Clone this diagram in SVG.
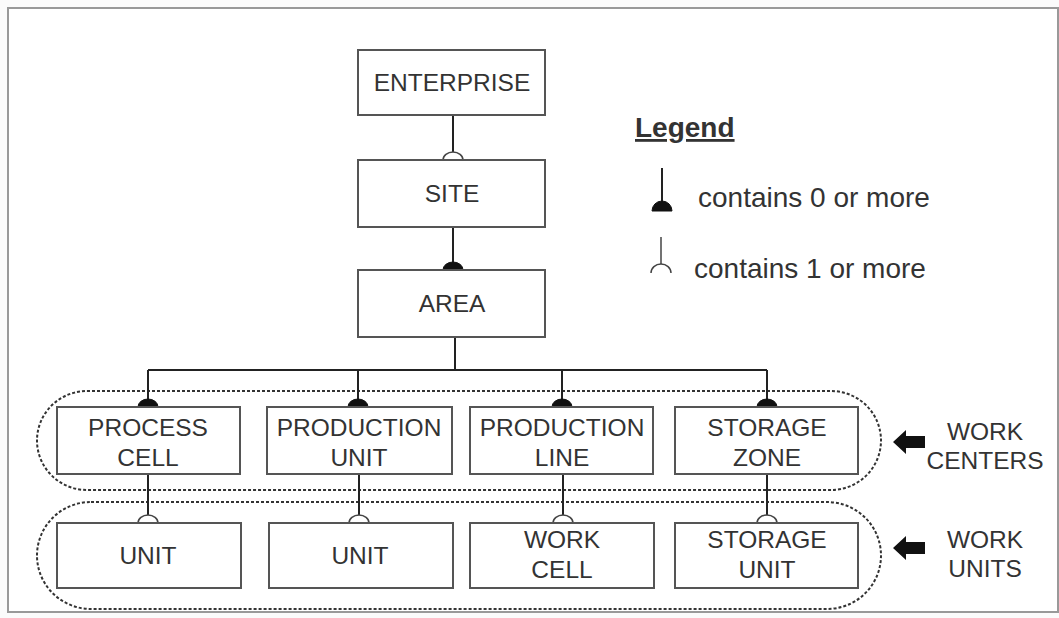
<svg xmlns="http://www.w3.org/2000/svg" width="1059" height="618" viewBox="0 0 1059 618">
<defs>
<style>
.box{fill:#fff;stroke:#555;stroke-width:2}
.t{font-family:"Liberation Sans",Arial,sans-serif;font-size:24.5px;fill:#333;text-anchor:middle}
.lg{font-family:"Liberation Sans",Arial,sans-serif;font-size:28px;fill:#333}
.ln{stroke:#222;stroke-width:2;fill:none}
.fill{fill:#111;stroke:#111;stroke-width:1}
.open{fill:#fff;stroke:#444;stroke-width:1.5}
.grp{fill:none;stroke:#333;stroke-width:2;stroke-dasharray:3 2}
</style>
</defs>
<rect x="0" y="0" width="1059" height="618" fill="#fbfbfb"/>
<rect x="8" y="8" width="1050" height="604" fill="#fff" stroke="#999" stroke-width="2"/>

<g id="groups">
<rect class="grp" x="37" y="391" width="844" height="99" rx="50" ry="50"/>
<rect class="grp" x="37" y="502" width="844" height="107" rx="54" ry="54"/>
</g>

<g id="connectors">
<path class="ln" d="M453 115V160"/>
<path class="ln" d="M453 227V270"/>
<path class="ln" d="M455 337V370M148 370H767M148 370V407M358 370V407M562 370V407M767 370V407"/>
<path class="ln" d="M148 474V523M359 474V523M563 474V523M767 474V523"/>
<path class="open" d="M443 160A10 8 0 0 1 463 160Z"/>
<path class="fill" d="M443 270A10 8 0 0 1 463 270Z"/>
<path class="fill" d="M138 407A10 8 0 0 1 158 407Z"/>
<path class="fill" d="M348 407A10 8 0 0 1 368 407Z"/>
<path class="fill" d="M552 407A10 8 0 0 1 572 407Z"/>
<path class="fill" d="M757 407A10 8 0 0 1 777 407Z"/>
<path class="open" d="M138 523A10 8 0 0 1 158 523Z"/>
<path class="open" d="M349 523A10 8 0 0 1 369 523Z"/>
<path class="open" d="M553 523A10 8 0 0 1 573 523Z"/>
<path class="open" d="M757 523A10 8 0 0 1 777 523Z"/>
</g>

<g id="enterprise"><rect class="box" x="358" y="50" width="187" height="65"/><text class="t" x="452" y="91">ENTERPRISE</text></g>
<g id="site"><rect class="box" x="358" y="160" width="187" height="67"/><text class="t" x="452" y="202">SITE</text></g>
<g id="area"><rect class="box" x="358" y="270" width="187" height="67"/><text class="t" x="452" y="312">AREA</text></g>

<g id="process-cell"><rect class="box" x="57" y="407" width="183" height="67"/><text class="t" x="148" y="436">PROCESS</text><text class="t" x="148" y="466">CELL</text></g>
<g id="production-unit"><rect class="box" x="267" y="407" width="185" height="67"/><text class="t" x="359" y="436">PRODUCTION</text><text class="t" x="359" y="466">UNIT</text></g>
<g id="production-line"><rect class="box" x="470" y="407" width="183" height="67"/><text class="t" x="562" y="436">PRODUCTION</text><text class="t" x="562" y="466">LINE</text></g>
<g id="storage-zone"><rect class="box" x="675" y="407" width="183" height="67"/><text class="t" x="767" y="436">STORAGE</text><text class="t" x="767" y="466">ZONE</text></g>

<g id="unit-1"><rect class="box" x="57" y="523" width="184" height="65"/><text class="t" x="148" y="564">UNIT</text></g>
<g id="unit-2"><rect class="box" x="269" y="523" width="184" height="65"/><text class="t" x="360" y="564">UNIT</text></g>
<g id="work-cell"><rect class="box" x="470" y="523" width="184" height="65"/><text class="t" x="562" y="548">WORK</text><text class="t" x="562" y="578">CELL</text></g>
<g id="storage-unit"><rect class="box" x="675" y="523" width="183" height="65"/><text class="t" x="767" y="548">STORAGE</text><text class="t" x="767" y="578">UNIT</text></g>

<g id="work-centers-label">
<path d="M893 442L906 430V436H925V448H906V454Z" fill="#111"/>
<text class="t" x="985" y="440">WORK</text><text class="t" x="985" y="469">CENTERS</text>
</g>
<g id="work-units-label">
<path d="M893 548L906 536V542H925V554H906V560Z" fill="#111"/>
<text class="t" x="985" y="548">WORK</text><text class="t" x="985" y="577">UNITS</text>
</g>

<g id="legend">
<text class="lg" x="635" y="137" font-weight="bold" text-decoration="underline">Legend</text>
<path class="ln" d="M662 168V208"/>
<path class="fill" d="M652 211A10 10 0 0 1 672 211Z"/>
<text class="lg" x="698" y="207">contains 0 or more</text>
<path d="M661 237V264" stroke="#444" stroke-width="1.5" fill="none"/>
<path d="M651 273A10 9 0 0 1 671 273" stroke="#444" stroke-width="1.5" fill="none"/>
<text class="lg" x="694" y="278">contains 1 or more</text>
</g>
</svg>
